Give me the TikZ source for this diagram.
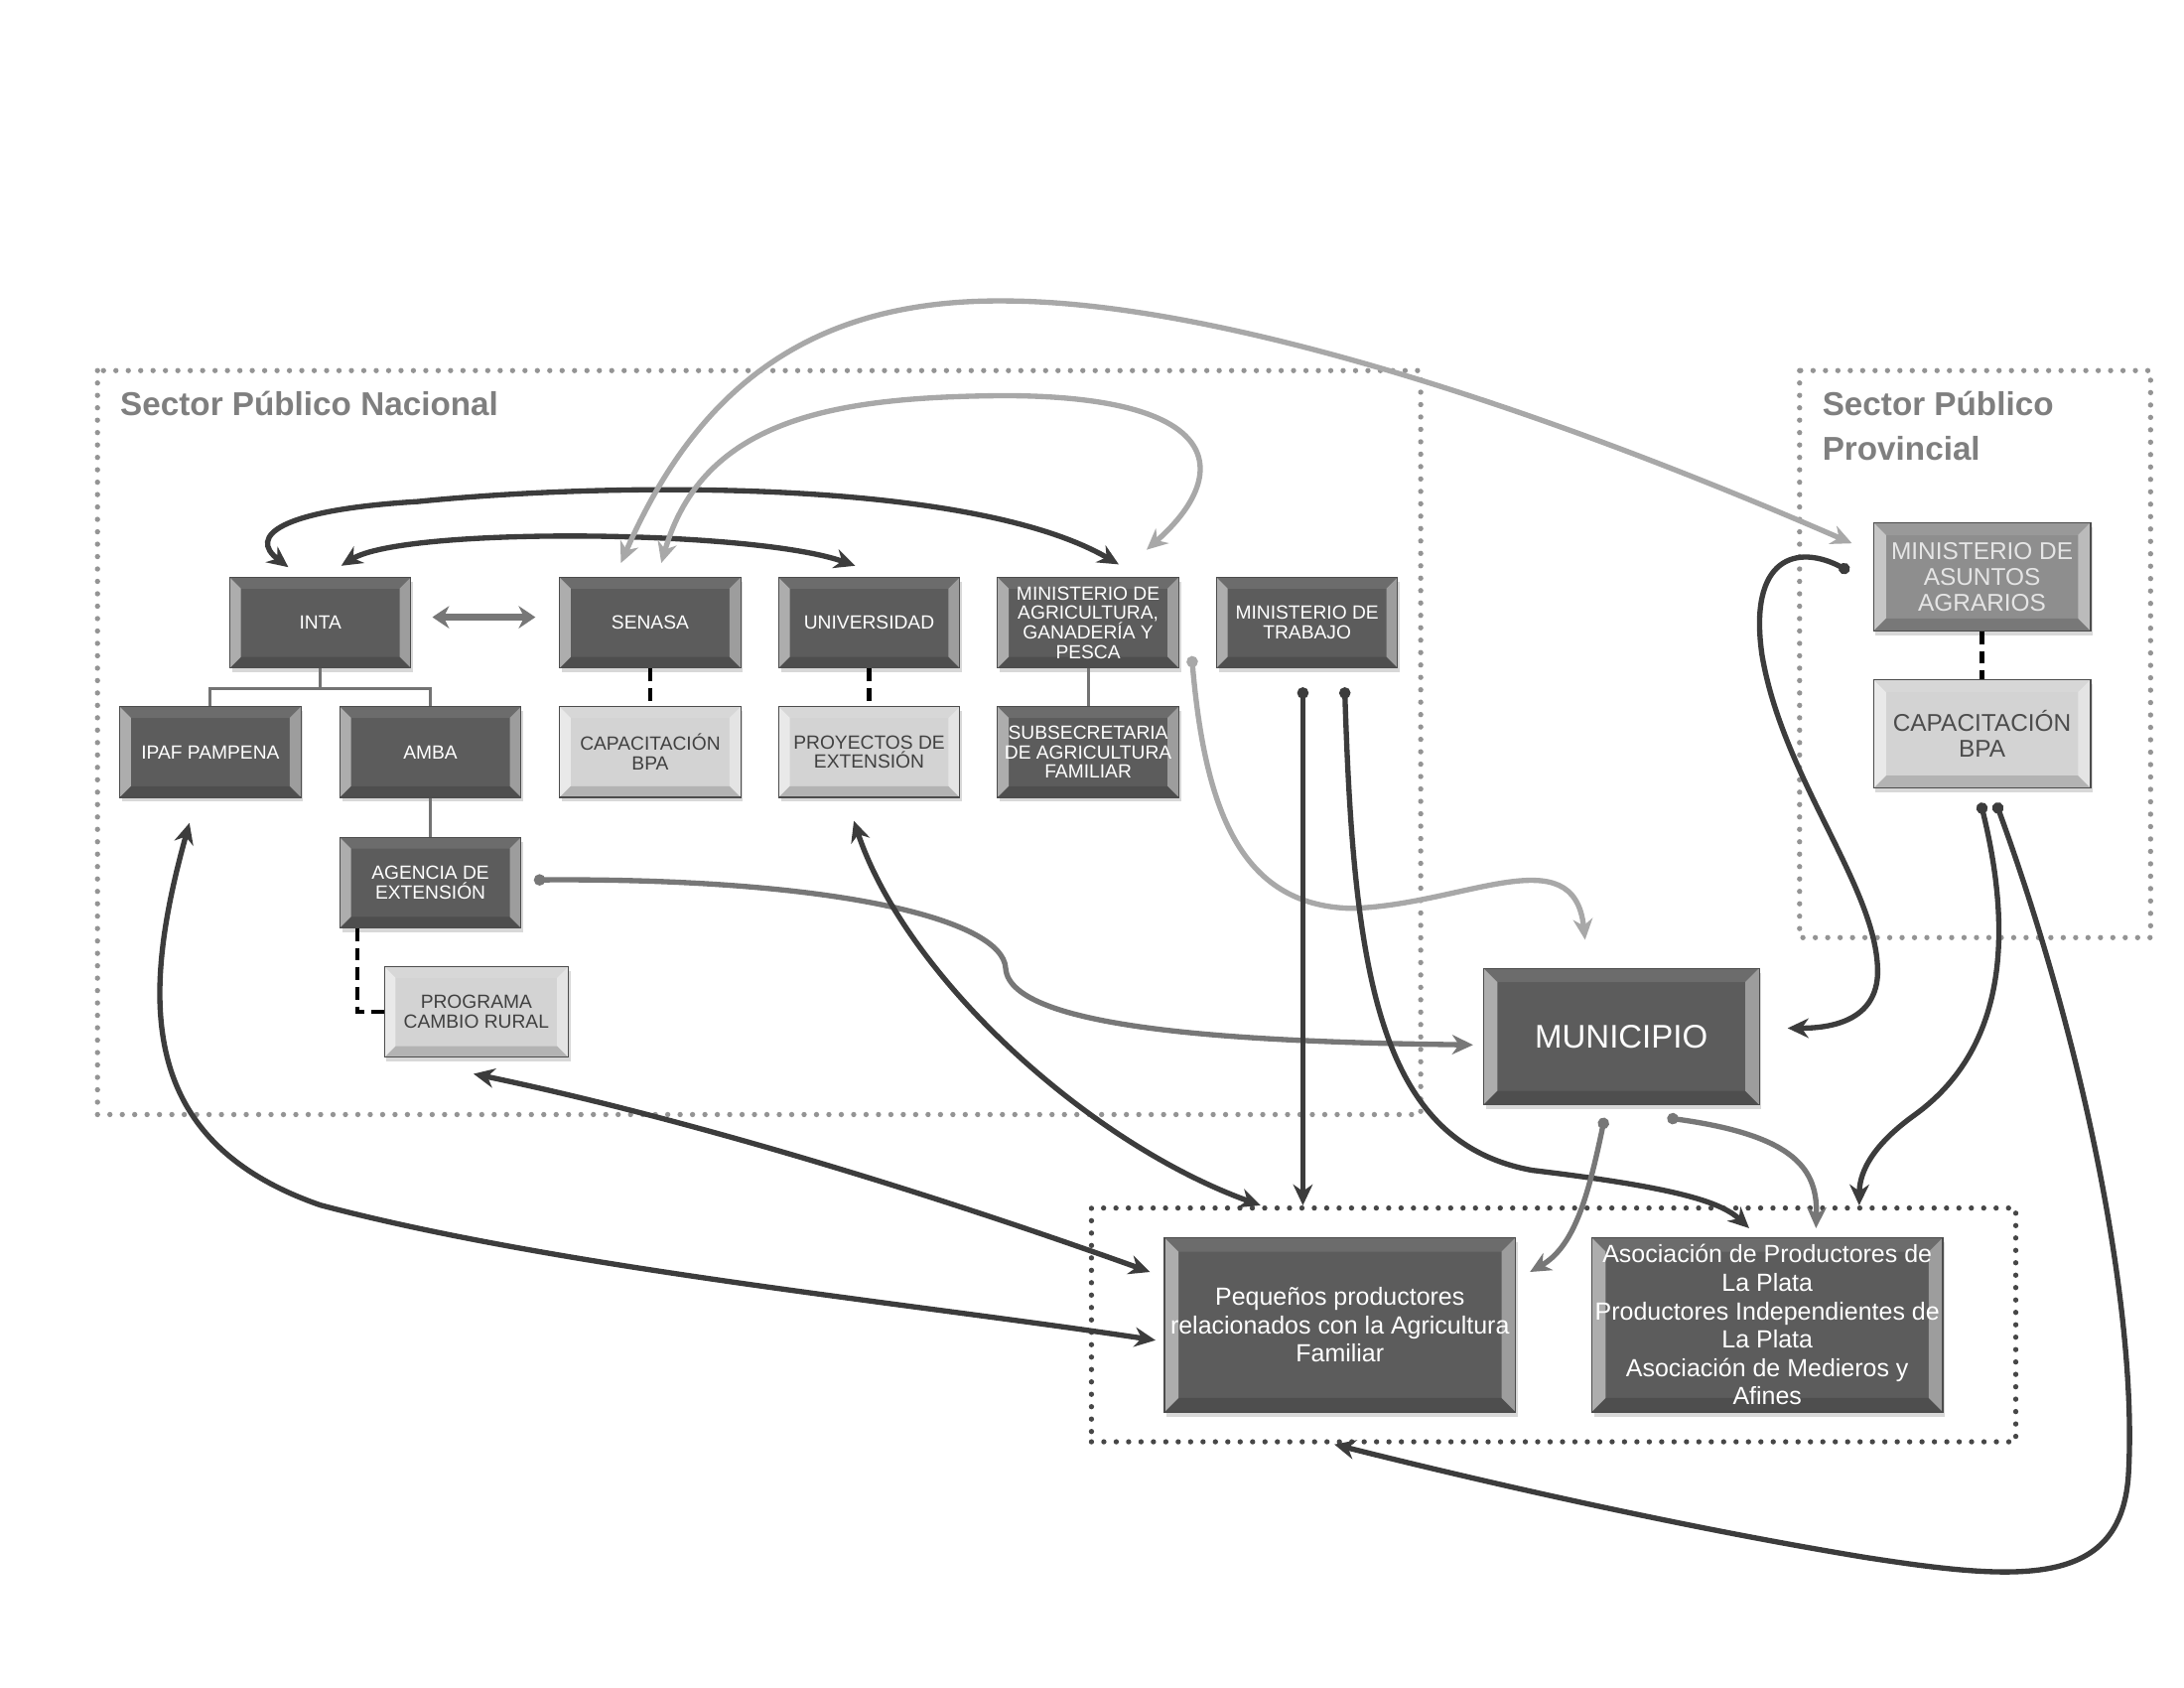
\documentclass[tikz,border=0pt]{standalone}
\usepackage{fontspec}
\setmainfont{Liberation Sans}
\usetikzlibrary{positioning}
\usetikzlibrary{shadows}
\usetikzlibrary{arrows.meta}
\usetikzlibrary{fit}

\definecolor{boxdark}{HTML}{5C5C5C}
\definecolor{boxmid}{HTML}{8E8E8E}
\definecolor{boxlight}{HTML}{D3D3D3}
\definecolor{linedark}{HTML}{3C3C3C}
\definecolor{linemid}{HTML}{777777}
\definecolor{linelight}{HTML}{A8A8A8}
\definecolor{titlegray}{HTML}{7F7F7F}

\tikzset{
  bevel/.style={path picture={
    \coordinate (bsw) at (path picture bounding box.south west);
    \coordinate (bnw) at (path picture bounding box.north west);
    \coordinate (bne) at (path picture bounding box.north east);
    \coordinate (bse) at (path picture bounding box.south east);
    \fill[white,opacity=.5] (bsw) -- (bnw) -- ([shift={(#1,-#1)}]bnw) -- ([shift={(#1,#1)}]bsw) -- cycle;
    \fill[white,opacity=.4] (bse) -- (bne) -- ([shift={(-#1,-#1)}]bne) -- ([shift={(-#1,#1)}]bse) -- cycle;
    \fill[white,opacity=.1] (bnw) -- (bne) -- ([shift={(-#1,-#1)}]bne) -- ([shift={(#1,-#1)}]bnw) -- cycle;
    \fill[black,opacity=.15] (bsw) -- (bse) -- ([shift={(-#1,#1)}]bse) -- ([shift={(#1,#1)}]bsw) -- cycle;
  }},
  basebox/.style={rectangle, draw=black!70, line width=.4pt, inner sep=1pt, align=center,
    drop shadow={shadow xshift=.8pt, shadow yshift=-1.6pt, opacity=.3}},
  darkbox/.style={basebox, fill=boxdark, text=white, minimum width=65pt, minimum height=32.5pt,
    font=\fontsize{6.85}{7}\selectfont, bevel=4pt},
  lightbox/.style={darkbox, fill=boxlight, text=black!75},
  midbox/.style={basebox, fill=boxmid, text=white!90!black, minimum width=78pt, minimum height=39pt,
    font=\fontsize{8.7}{9.25}\selectfont, bevel=4.5pt},
  provlight/.style={midbox, fill=boxlight, text=black!70},
  munibox/.style={basebox, fill=boxdark, text=white, minimum width=99pt, minimum height=49pt,
    font=\fontsize{11.75}{14}\selectfont, bevel=5pt},
  bigbox/.style={basebox, fill=boxdark, text=white, minimum width=126pt, minimum height=62.5pt,
    font=\fontsize{8.9}{10.2}\selectfont, bevel=5pt},
  sectitle/.style={inner sep=0pt, text=titlegray, font=\fontsize{11.85}{16}\selectfont\bfseries},
  natframe/.style={draw=black!42, line width=1.9pt, line cap=round, dash pattern=on 0pt off 4.45pt},
  groupframe/.style={rectangle, draw=black!72, line width=1.9pt, line cap=round, dash pattern=on 0pt off 4.45pt},
  darklink/.style={draw=linedark, line width=1.9pt},
  midlink/.style={draw=linemid, line width=1.9pt},
  lightlink/.style={draw=linelight, line width=1.9pt},
  treeline/.style={draw=black!55, line width=1.1pt},
  dashlink/.style={draw=black, line width=1.6pt, dash pattern=on 4.5pt off 2.5pt}
}

\begin{document}
\begin{tikzpicture}[x=0.5pt, y=-0.5pt, >={Stealth[length=7.5pt,width=7pt]}]
\fill[white] (0,0) rectangle (1568,1211);
\useasboundingbox (0,0) rectangle (1568,1211);

\draw[natframe] (70,266) rectangle (1020,800);
\draw[natframe] (1292,266) rectangle (1544,673);
\node[sectitle, anchor=west] (nactitle) at (86,290) {Sector Público Nacional};
\node[sectitle, anchor=west, align=left] (provtitle) at (1308,306) {Sector Público\\Provincial};

\node[darkbox] (inta) at (230,447) {INTA};
\node[darkbox] (senasa) [right=53pt of inta] {SENASA};
\node[darkbox] (univ) [right=13.2pt of senasa] {UNIVERSIDAD};
\node[darkbox] (magri) [right=13.2pt of univ] {MINISTERIO DE\\AGRICULTURA,\\GANADERÍA Y\\PESCA};
\node[darkbox] (trabajo) [right=13.2pt of magri] {MINISTERIO DE\\TRABAJO};
\node[darkbox] (ipaf) [below=13.5pt of inta, xshift=-39.5pt] {IPAF PAMPENA};
\node[darkbox] (amba) [below=13.5pt of inta, xshift=39.5pt] {AMBA};
\node[lightbox] (capnac) [below=13.5pt of senasa] {CAPACITACIÓN\\BPA};
\node[lightbox] (proyext) [below=13.5pt of univ] {PROYECTOS DE\\EXTENSIÓN};
\node[darkbox] (subsec) [below=13.5pt of magri] {SUBSECRETARIA\\DE AGRICULTURA\\FAMILIAR};
\node[darkbox] (agencia) [below=14pt of amba] {AGENCIA DE\\EXTENSIÓN};
\node[lightbox, minimum width=66pt] (cambio) [below=13.5pt of agencia, xshift=16.5pt] {PROGRAMA\\CAMBIO RURAL};
\node[midbox] (maa) at (1423,414) {MINISTERIO DE\\ASUNTOS\\AGRARIOS};
\node[provlight] (capprov) [below=17pt of maa] {CAPACITACIÓN\\BPA};
\node[munibox] (muni) at (1164,744) {MUNICIPIO};
\node[bigbox] (pequenos) at (962,951) {Pequeños productores\\relacionados con la Agricultura\\Familiar};
\node[bigbox] (asoc) [right=27pt of pequenos] {Asociación de Productores de\\La Plata\\Productores Independientes de\\La Plata\\Asociación de Medieros y\\Afines};
\node[groupframe, fit=(pequenos)(asoc), inner xsep=26pt, inner ysep=10.5pt] (group) {};

\draw[treeline] (inta.south) -- ++(0,-7.25pt) -| (ipaf.north);
\draw[treeline] (inta.south) -- ++(0,-7.25pt) -| (amba.north);
\draw[treeline] (amba) -- (agencia);
\draw[treeline] (magri) -- (subsec);
\draw[dashlink] (senasa) -- (capnac);
\draw[dashlink] (univ) -- (proyext);
\draw[dashlink] (maa) -- (capprov);
\draw[dashlink] ([xshift=6.5pt]agencia.south west) |- (cambio.west);

\draw[midlink, line width=2.2pt, <->, >={Stealth[length=6pt,width=8pt]}] ([xshift=7.5pt,yshift=2pt]inta.east) -- ([xshift=-8.5pt,yshift=2pt]senasa.west);
\draw[darklink, <->] ([xshift=-11.5pt,yshift=3.5pt]inta.north) .. controls (178,385) and (200,366) .. (300,360) .. controls (450,345) and (700,345) .. ([xshift=11pt,yshift=4.5pt]magri.north);
\draw[darklink, <->] ([xshift=7.5pt,yshift=4pt]inta.north) .. controls (290,378) and (540,380) .. ([xshift=-5pt,yshift=4pt]univ.north);
\draw[lightlink, <->] ([xshift=-10.5pt,yshift=5pt]senasa.north) .. controls (500,280) and (580,215) .. (720,216) .. controls (870,216) and (1100,290) .. ([xshift=-7.5pt,yshift=12pt]maa.west);
\draw[lightlink, <->] ([xshift=4pt,yshift=5pt]senasa.north) .. controls (505,300) and (600,285) .. (720,284) .. controls (880,284) and (885,340) .. ([xshift=21pt,yshift=9.75pt]magri.north);
\draw[lightlink, {Circle[length=4pt]}->] ([xshift=4.5pt,yshift=-12pt]magri.east) .. controls (865,580) and (890,650) .. (970,652) .. controls (1050,650) and (1130,600) .. ([xshift=-13pt,yshift=10pt]muni.north);
\draw[midlink, {Circle[length=4pt]}->] ([xshift=4.5pt,yshift=1pt]agencia.east) .. controls (600,630) and (720,660) .. (722,695) .. controls (725,740) and (900,748) .. ([xshift=-3.5pt,yshift=-3pt]muni.west);
\coordinate (trabdot) at ([xshift=-1.5pt,yshift=-6.75pt]trabajo.south);
\draw[darklink, {Circle[length=4pt]}->] (trabdot) -- (trabdot |- group.north);
\draw[darklink, {Circle[length=4pt]}->] ([xshift=13.5pt,yshift=-6.75pt]trabajo.south) .. controls (972,700) and (990,820) .. (1100,840) .. controls (1200,852) and (1235,862) .. ([xshift=-6.5pt,yshift=3.25pt]asoc.north);
\draw[darklink, {Circle[length=4pt]}->] ([xshift=-8.5pt,yshift=2pt]maa.west) .. controls (1290,390) and (1255,400) .. (1265,470) .. controls (1280,560) and (1350,640) .. (1348,700) .. controls (1346,735) and (1310,738) .. ([xshift=10pt,yshift=3pt]muni.east);
\draw[darklink, {Circle[length=4pt]}->] ([xshift=-0.5pt,yshift=-5pt]capprov.south) .. controls (1450,690) and (1430,760) .. (1375,800) .. controls (1340,825) and (1335,845) .. ([xshift=33pt]asoc.north |- group.north);
\draw[darklink, {Circle[length=4pt]}->] ([xshift=5pt,yshift=-5pt]capprov.south) .. controls (1500,760) and (1535,950) .. (1528,1060) .. controls (1522,1140) and (1450,1135) .. (1340,1118) .. controls (1200,1095) and (1050,1060) .. ([xshift=-2pt]pequenos.south |- group.south);
\draw[midlink, {Circle[length=4pt]}->] ([xshift=-6pt,yshift=-4.5pt]muni.south) .. controls (1140,860) and (1130,895) .. ([xshift=5pt,yshift=19pt]pequenos.east);
\draw[midlink, {Circle[length=4pt]}->] ([xshift=16.5pt,yshift=-4.5pt]muni.south) .. controls (1290,815) and (1305,840) .. ([xshift=17.5pt,yshift=3.25pt]asoc.north);
\draw[darklink, <->] ([xshift=-7.5pt,yshift=-9pt]ipaf.south) .. controls (100,720) and (100,820) .. (230,865) .. controls (400,910) and (650,935) .. ([xshift=-3pt,yshift=-5.5pt]pequenos.west);
\draw[darklink, <->] ([xshift=-1pt,yshift=-5.75pt]cambio.south) .. controls (480,800) and (650,850) .. ([xshift=-5pt,yshift=19pt]pequenos.west);
\draw[darklink, <->] ([xshift=-5.5pt,yshift=-8.25pt]proyext.south) .. controls (650,700) and (780,820) .. ([xshift=-28.5pt]pequenos.north |- group.north);
\end{tikzpicture}
\end{document}
